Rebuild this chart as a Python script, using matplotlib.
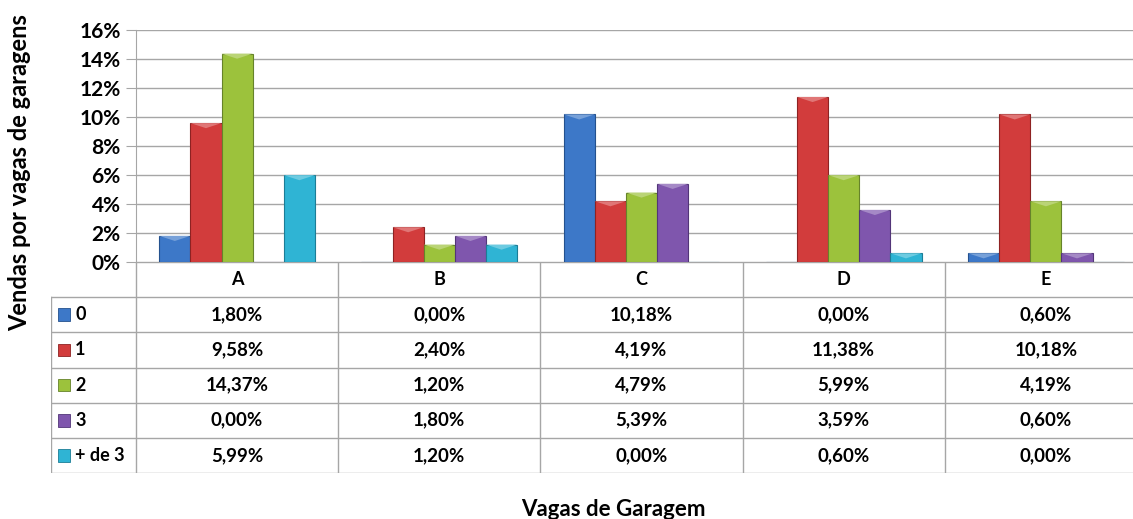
import numpy as np
import matplotlib
matplotlib.use("Agg")
import matplotlib.pyplot as plt
from matplotlib.patches import Rectangle, Polygon
import matplotlib.colors as mcolors

plt.rcParams['font.family'] = ['Lato', 'DejaVu Sans']
plt.rcParams['font.weight'] = 'bold'

# Data
categories = ['A', 'B', 'C', 'D', 'E']
series_names = ['0', '1', '2', '3', '+ de 3']
vals_0 = [1.80, 0.00, 10.18, 0.00, 0.60]
vals_1 = [9.58, 2.40, 4.19, 11.38, 10.18]
vals_2 = [14.37, 1.20, 4.79, 5.99, 4.19]
vals_3 = [0.00, 1.80, 5.39, 3.59, 0.60]
vals_4 = [5.99, 1.20, 0.00, 0.60, 0.00]
series_vals = [vals_0, vals_1, vals_2, vals_3, vals_4]
colors = ['#3d78c8', '#d23c3c', '#9cc23c', '#7f56ad', '#2fb4d4']
edges = ['#24518e', '#8e2222', '#66832a', '#523578', '#1c7d96']


def lighten(c, f):
    r, g, b = mcolors.to_rgb(c)
    return (r + (1 - r) * f, g + (1 - g) * f, b + (1 - b) * f)


W, H = 1133, 519
fig = plt.figure(figsize=(W / 100, H / 100), dpi=100)

px_left, px_right = 136, 1147
px_top, px_zero = 30, 262
ax = fig.add_axes([px_left / W, 1 - px_zero / H,
                   (px_right - px_left) / W, (px_zero - px_top) / H])

x = np.arange(len(categories))
bw = 0.154
cap = 0.35  # height of bevel cap in % units
for i, (vals, c, ec) in enumerate(zip(series_vals, colors, edges)):
    off = (i - 2) * bw
    bars = ax.bar(x + off, vals, width=bw, color=c, edgecolor=ec, linewidth=0.8, zorder=3)
    for b, v in zip(bars, vals):
        if v <= 0:
            continue
        x0 = b.get_x()
        x1 = x0 + bw
        h = min(cap, v * 0.6)
        ax.add_patch(Polygon([(x0, v), (x1, v), (x0 + bw / 2, v - h)],
                             closed=True, facecolor=lighten(c, 0.3),
                             edgecolor='none', zorder=4))

ax.set_xlim(-0.5, 4.5)
ax.set_ylim(0, 16)
ax.set_yticks(np.arange(0, 17, 2))
ax.set_yticklabels([f'{v}%' for v in range(0, 17, 2)], fontsize=15, fontweight='bold')
ax.set_xticks([])
ax.grid(axis='y', color='#a6a6a6', linewidth=1, zorder=0)
ax.tick_params(axis='y', length=7, color='#a6a6a6', pad=4)
for s in ['top', 'right', 'bottom']:
    ax.spines[s].set_visible(False)
ax.spines['left'].set_color('#a6a6a6')

# Data table
px_tleft, px_tbot = 51, 473
tax = fig.add_axes([px_tleft / W, 1 - px_tbot / H,
                    (px_right - px_tleft) / W, (px_tbot - px_zero) / H])
grp = (px_right - px_left) / 5
leg_w = (px_left - px_tleft) / grp
tax.set_xlim(-0.5 - leg_w, 4.5)
tax.set_ylim(6, 0)
tax.axis('off')
lc = '#a6a6a6'
tax.plot([-0.5, 4.5], [0, 0], color=lc, lw=1)
for r in range(1, 7):
    tax.plot([-0.5 - leg_w, 4.5], [r, r], color=lc, lw=1)
tax.plot([-0.5 - leg_w] * 2, [1, 6], color=lc, lw=1)
for k in range(6):
    tax.plot([k - 0.5] * 2, [0, 6], color=lc, lw=1)
for k, cat in enumerate(categories):
    tax.text(k, 0.5, cat, ha='center', va='center', fontsize=13, fontweight='bold')
for r, (name, vals, c, ec) in enumerate(zip(series_names, series_vals, colors, edges)):
    yc = r + 1.5
    tax.add_patch(Rectangle((-0.5 - leg_w + 0.037, yc - 0.18), 0.058, 0.36,
                            facecolor=c, edgecolor=ec, lw=0.6))
    tax.text(-0.5 - leg_w + 0.12, yc, name, ha='left', va='center',
             fontsize=13, fontweight='bold')
    for k, v in enumerate(vals):
        tax.text(k, yc, f'{v:.2f}%'.replace('.', ','), ha='center', va='center',
                 fontsize=13.5, fontweight='bold')

fig.text(20 / W, 1 - 173 / H, 'Vendas por vagas de garagens', rotation=90,
         ha='center', va='center', fontsize=17, fontweight='bold')
fig.text(613 / W, 1 - 509 / H, 'Vagas de Garagem', ha='center', va='center',
         fontsize=16, fontweight='bold')

fig.savefig('out.png', dpi=100)
